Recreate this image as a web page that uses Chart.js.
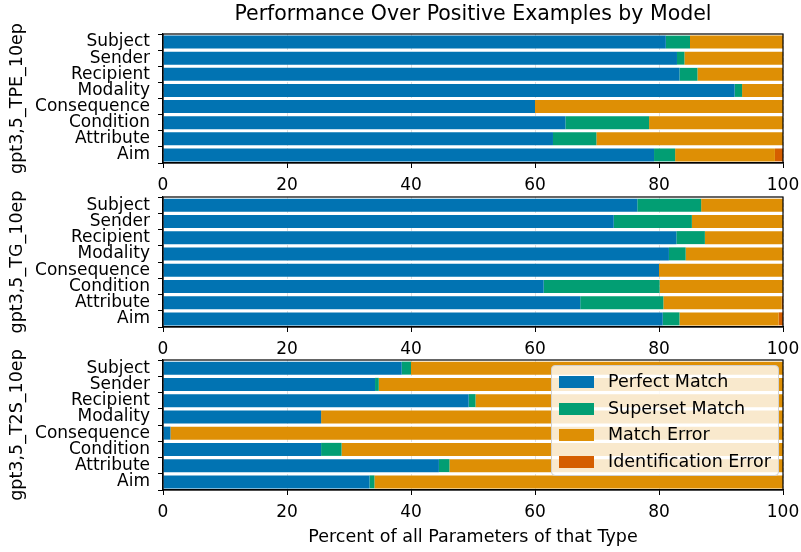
<!DOCTYPE html>
<html>
<head>
  <meta charset="UTF-8">
  <script src="https://cdn.jsdelivr.net/npm/chart.js"></script>
  <style>
    body { margin: 0; background: #fff; }
    #wrap { position: relative; width: 801px; height: 552px; overflow: hidden; }
    canvas { position: absolute; left: 0; }
    #legend {
      position: absolute; left: 551px; top: 365px; width: 228px; height: 111px;
      background: rgba(255,255,255,0.8); border: 1px solid #d0d0d0; border-radius: 4px;
      font-family: "DejaVu Sans"; font-size: 17.5px; color: #000; box-sizing: border-box;
    }
    .item { position: absolute; left: 7px; height: 20px; line-height: 20px; white-space: nowrap; }
    .item span { display: inline-block; width: 35px; height: 12px; margin-right: 14px; vertical-align: -1px; }
  </style>
</head>
<body>
<div id="wrap">
  <canvas id="c1" width="801" height="200" style="top:0px"></canvas>
  <canvas id="c2" width="801" height="170" style="top:185px"></canvas>
  <canvas id="c3" width="801" height="202" style="top:350px"></canvas>
  <div id="legend"></div>
</div>
<script>
  // data (percent)
  const categories = ['Subject', 'Sender', 'Recipient', 'Modality', 'Consequence', 'Condition', 'Attribute', 'Aim'];
  const seriesNames = ['Perfect Match', 'Superset Match', 'Match Error', 'Identification Error'];
  const colors = ['#0173B2', '#029E73', '#DE8F05', '#D55E00'];
  const xTicks = [0, 20, 40, 60, 80, 100];

  const tpePerfect  = [81.1, 82.9, 83.3, 92.2, 60.0, 64.9, 62.9, 79.2];
  const tpeSuperset = [3.9, 1.2, 2.9, 1.2, 0, 13.5, 7.0, 3.4];
  const tpeMatchErr = [15.0, 15.9, 13.8, 6.6, 40.0, 21.6, 30.1, 16.1];
  const tpeIdentErr = [0, 0, 0, 0, 0, 0, 0, 1.3];

  const tgPerfect  = [76.5, 72.7, 82.8, 81.6, 80.0, 61.4, 67.3, 80.6];
  const tgSuperset = [10.3, 12.6, 4.6, 2.7, 0, 18.7, 13.4, 2.7];
  const tgMatchErr = [13.2, 14.7, 12.6, 15.7, 20.0, 19.9, 19.1, 16.0];
  const tgIdentErr = [0, 0, 0, 0, 0, 0, 0.2, 0.7];

  const t2sPerfect  = [38.5, 34.2, 49.3, 25.5, 1.2, 25.5, 44.5, 33.3];
  const t2sSuperset = [1.5, 0.6, 1.1, 0, 0, 3.3, 1.7, 0.8];
  const t2sMatchErr = [60.0, 65.2, 49.6, 74.5, 98.8, 71.2, 53.8, 65.9];
  const t2sIdentErr = [0, 0, 0, 0, 0, 0, 0, 0];

  Chart.defaults.font.family = 'DejaVu Sans';
  Chart.defaults.color = '#000';

  // black frame round the plot area (matplotlib spines)
  const frame = {
    id: 'frame',
    afterDraw(chart) {
      const a = chart.chartArea, ctx = chart.ctx;
      ctx.save();
      ctx.strokeStyle = '#000';
      ctx.lineWidth = 1.2;
      ctx.strokeRect(a.left, a.top, a.right - a.left, a.bottom - a.top);
      ctx.restore();
    }
  };

  function makeChart(id, yTitle, values, opt) {
    return new Chart(document.getElementById(id), {
      type: 'bar',
      data: {
        labels: categories,
        datasets: values.map((v, i) => ({
          label: seriesNames[i],
          data: v,
          backgroundColor: colors[i],
          borderWidth: 0,
          barPercentage: 0.8,
          categoryPercentage: 1
        }))
      },
      options: {
        indexAxis: 'y',
        responsive: false,
        animation: false,
        devicePixelRatio: 1,
        layout: { padding: { left: 0, right: 18, top: opt.padTop, bottom: 0 } },
        plugins: {
          legend: { display: false },
          tooltip: { enabled: false },
          title: opt.title ? {
            display: true, text: opt.title, color: '#000', fullSize: false,
            font: { size: 20.5, weight: 'normal' }, padding: { top: 2, bottom: 7.4 }
          } : { display: false }
        },
        scales: {
          x: {
            stacked: true, min: 0, max: 100, z: 1,
            afterBuildTicks: (s) => { s.ticks = xTicks.map(v => ({ value: v })); },
            afterFit: (s) => { s.height = opt.xHeight; s.paddingLeft = 0; s.paddingRight = 0; },
            ticks: { font: { size: 17 }, padding: 7, maxRotation: 0 },
            grid: {
              color: 'rgba(215,215,215,0.8)', lineWidth: 1,
              tickColor: '#000', tickLength: 5, tickWidth: 1
            },
            border: { display: true, color: '#000', width: 1.2, dash: [4, 2] },
            title: opt.xTitle ? {
              display: true, text: opt.xTitle, font: { size: 17.5 }, padding: { top: 0, bottom: 4.5 }
            } : { display: false }
          },
          y: {
            stacked: true, z: 1,
            afterFit: (s) => { s.width = 163; s.paddingTop = 0; s.paddingBottom = 0; },
            ticks: { font: { size: 17 }, padding: 8, autoSkip: false },
            grid: { drawOnChartArea: false, tickColor: '#000', tickLength: 5, tickWidth: 1 },
            border: { display: true, color: '#000', width: 1.2 },
            title: { display: true, text: yTitle, font: { size: 17.5 }, padding: { top: 6.5, bottom: 0 } }
          }
        }
      },
      plugins: [frame]
    });
  }

  makeChart('c1', 'gpt3,5_TPE_10ep', [tpePerfect, tpeSuperset, tpeMatchErr, tpeIdentErr],
    { title: 'Performance Over Positive Examples by Model', padTop: 0, xHeight: 37 });
  makeChart('c2', 'gpt3,5_TG_10ep', [tgPerfect, tgSuperset, tgMatchErr, tgIdentErr],
    { padTop: 12, xHeight: 28 });
  makeChart('c3', 'gpt3,5_T2S_10ep', [t2sPerfect, t2sSuperset, t2sMatchErr, t2sIdentErr],
    { padTop: 10, xHeight: 62, xTitle: 'Percent of all Parameters of that Type' });

  // legend box drawn over the third panel
  const legendEl = document.getElementById('legend');
  seriesNames.forEach((name, i) => {
    const d = document.createElement('div');
    d.className = 'item';
    d.style.top = (5 + i * 26.5) + 'px';
    d.innerHTML = '<span style="background:' + colors[i] + '"></span>' + name;
    legendEl.appendChild(d);
  });
</script>
</body>
</html>
